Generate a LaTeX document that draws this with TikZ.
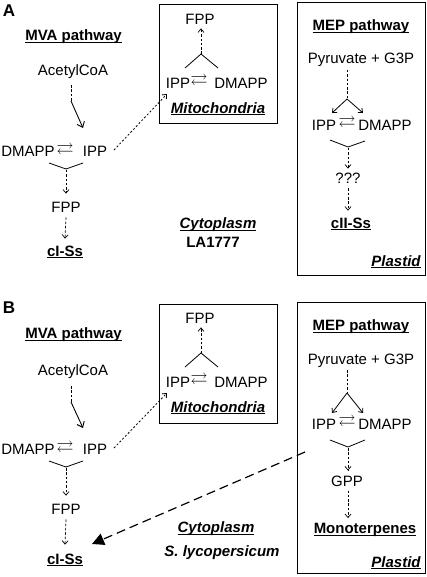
\documentclass[tikz,border=0pt]{standalone}
\usepackage{amssymb}
\usepackage{fontspec}
\setmainfont{Liberation Sans}
\usetikzlibrary{arrows.meta}
\newcommand\myul[1]{\setbox0\hbox{#1}\rlap{\rule[-1.8pt]{\wd0}{0.9pt}}\box0}
\tikzset{
  tx/.style={inner sep=0pt, font=\fontsize{15}{17}\selectfont},
  bt/.style={tx, font=\fontsize{15}{17}\selectfont\bfseries},
  bi/.style={tx, font=\fontsize{15}{17}\selectfont\bfseries\itshape},
  lab/.style={inner sep=0pt, font=\fontsize{17}{19}\selectfont\bfseries},
  sym/.style={inner sep=0pt, font=\fontsize{17}{19}\selectfont},
  boxx/.style={draw, line width=1pt, inner sep=0pt},
  dsh/.style={line width=0.7pt, dash pattern=on 2.5pt off 1.8pt, -{Straight Barb[length=3.5pt,width=6pt]}},
  dln/.style={line width=0.7pt, dash pattern=on 2.5pt off 1.8pt},
  sarr/.style={line width=0.9pt, -{Straight Barb[length=5pt,width=8pt]}},
  farr/.style={line width=0.8pt, -{Straight Barb[length=3.5pt,width=6pt]}},
  dott/.style={line width=0.8pt, dash pattern=on 2pt off 2pt, -{Straight Barb[length=3.5pt,width=6pt]}},
  vln/.style={line width=0.8pt},
  bigd/.style={line width=1.2pt, dash pattern=on 9pt off 5pt, -{Triangle[length=12pt,width=12pt]}}
}
\begin{document}
\begin{tikzpicture}[x=1pt,y=-1pt]
\useasboundingbox (0,0) rectangle (427,577);
\fill[white] (0,0) rectangle (427,577);
% ================= Panel A =================
\node[lab] (labA) at (9,11) {A};
\node[bt] (mvaA) at (73.5,37) {\myul{MVA pathway}};
\node[tx] (acA) at (73,72) {AcetylCoA};
\coordinate (acmA) at (71,101);
\coordinate (arA) at (83,128);
\draw[dln] (acA.south -| acmA) ++(0,6) -- (acmA);
\draw[sarr] (acmA) -- (arA);
\node[tx] (dmA) at (28,151) {DMAPP};
\node[sym] (syA) at (65,150) {$\rightleftarrows$};
\node[tx] (ipA) at (95,151) {IPP};
\coordinate (vlA) at (49,163);
\coordinate (vcA) at (66,169);
\coordinate (vrA) at (83,163);
\draw[vln] (vlA) -- (vcA) -- (vrA);
\node[tx] (fpA) at (66,207) {FPP};
\node[bt] (ciA) at (65,252) {\myul{cI-Ss}};
\draw[dsh] (vcA) ++(0,1) -- ([yshift=8pt]fpA.north);
\draw[dsh] ([yshift=-5pt]fpA.south) -- ([yshift=7pt]ciA.north);
% Mitochondria A
\node[boxx, minimum width=118pt, minimum height=119pt] (mitoA) at (218,64.5) {};
\node[tx] (fpmA) at (200,19) {FPP};
\node[tx] (ipmA) at (178,83) {IPP};
\node[sym] (symA) at (199,81) {$\rightleftarrows$};
\node[tx] (dmmA) at (241,83) {DMAPP};
\coordinate (mlA) at (185,68);
\coordinate (mcA) at (201,54);
\coordinate (mrA) at (218,68);
\draw[vln] (mlA) -- (mcA) -- (mrA);
\draw[dsh] (mcA) -- ([yshift=-4pt]fpmA.south -| mcA);
\node[bi] (mtA) at (218,109) {\myul{Mitochondria}};
\coordinate (d1A) at (114,150);
\coordinate (d2A) at (167,94);
\draw[dott] (d1A) -- (d2A);
\node[bi] (cyA) at (218,225) {\myul{Cytoplasm}};
\node[bt] (laA) at (213,242) {LA1777};
% Plastid A
\node[boxx, minimum width=128pt, minimum height=272pt] (plA) at (361,139) {};
\node[bt] (mepA) at (361,27) {\myul{MEP pathway}};
\node[tx] (pyA) at (361,60) {Pyruvate + G3P};
\coordinate (ptA) at (347,70);
\coordinate (pcA) at (347,99);
\coordinate (plfA) at (332,113);
\coordinate (prfA) at (363,113);
\draw[dln] (ptA) -- (pcA);
\draw[farr] (pcA) -- (plfA);
\draw[farr] (pcA) -- (prfA);
\node[tx] (ippA) at (324,125) {IPP};
\node[sym] (sypA) at (347,123) {$\rightleftarrows$};
\node[tx] (dmpA) at (385,125) {DMAPP};
\coordinate (qlA) at (330,140);
\coordinate (qcA) at (348,147);
\coordinate (qrA) at (365,141);
\draw[vln] (qlA) -- (qcA) -- (qrA);
\node[tx] (qqA) at (348,178) {???};
\node[bt] (ciiA) at (351,224) {\myul{cII-Ss}};
\draw[dsh] (qcA) ++(0,1) -- ([yshift=4pt]qqA.north -| qcA);
\draw[dsh] ([yshift=-5pt]qqA.south -| qcA) -- ([yshift=7pt]ciiA.north -| qcA);
\node[bi] (ptdA) at (396,262) {\myul{Plastid}};
% ================= Panel B =================
\node[lab] (labB) at (9,308) {B};
\node[bt] (mvaB) at (73.5,335) {\myul{MVA pathway}};
\node[tx] (acB) at (73,372) {AcetylCoA};
\coordinate (acmB) at (71,402);
\coordinate (arB) at (83,428);
\draw[dln] (acB.south -| acmB) ++(0,7) -- (acmB);
\draw[sarr] (acmB) -- (arB);
\node[tx] (dmB) at (28,449) {DMAPP};
\node[sym] (syB) at (65,448) {$\rightleftarrows$};
\node[tx] (ipB) at (95,449) {IPP};
\coordinate (vlB) at (49,461);
\coordinate (vcB) at (66,467);
\coordinate (vrB) at (83,461);
\draw[vln] (vlB) -- (vcB) -- (vrB);
\node[tx] (fpB) at (66,509) {FPP};
\node[bt] (ciB) at (65,560) {\myul{cI-Ss}};
\draw[dsh] (vcB) ++(0,1) -- ([yshift=8pt]fpB.north);
\draw[dsh] ([yshift=-5pt]fpB.south) -- ([yshift=9pt]ciB.north);
% Mitochondria B
\node[boxx, minimum width=118pt, minimum height=119pt] (mitoB) at (218,363.5) {};
\node[tx] (fpmB) at (200,318) {FPP};
\node[tx] (ipmB) at (178,382) {IPP};
\node[sym] (symB) at (199,380) {$\rightleftarrows$};
\node[tx] (dmmB) at (241,382) {DMAPP};
\coordinate (mlB) at (185,367);
\coordinate (mcB) at (201,353);
\coordinate (mrB) at (218,367);
\draw[vln] (mlB) -- (mcB) -- (mrB);
\draw[dsh] (mcB) -- ([yshift=-4pt]fpmB.south -| mcB);
\node[bi] (mtB) at (218,408) {\myul{Mitochondria}};
\coordinate (d1B) at (114,448);
\coordinate (d2B) at (167,393);
\draw[dott] (d1B) -- (d2B);
\node[bi] (cyB) at (216,529) {\myul{Cytoplasm}};
\node[bi] (slB) at (222,553) {S. lycopersicum};
% Plastid B
\node[boxx, minimum width=128pt, minimum height=271pt] (plB) at (361,437.5) {};
\node[bt] (mepB) at (361,327) {\myul{MEP pathway}};
\node[tx] (pyB) at (361,361) {Pyruvate + G3P};
\coordinate (ptB) at (347,370);
\coordinate (pcB) at (347,393);
\coordinate (plfB) at (332,413);
\coordinate (prfB) at (363,413);
\draw[dln] (ptB) -- (pcB);
\draw[farr] (pcB) -- (plfB);
\draw[farr] (pcB) -- (prfB);
\node[tx] (ippB) at (324,424) {IPP};
\node[sym] (sypB) at (347,422) {$\rightleftarrows$};
\node[tx] (dmpB) at (385,424) {DMAPP};
\coordinate (qlB) at (330,440);
\coordinate (qcB) at (348,447);
\coordinate (qrB) at (365,440);
\draw[vln] (qlB) -- (qcB) -- (qrB);
\node[tx] (gpB) at (347,481) {GPP};
\node[bt] (moB) at (365,530) {\myul{Monoterpenes}};
\draw[dsh] (qcB) ++(0,1) -- ([yshift=5pt]gpB.north -| qcB);
\draw[dsh] ([yshift=-4pt]gpB.south -| qcB) -- ([yshift=5pt]moB.north -| qcB);
\node[bi] (ptdB) at (396,563) {\myul{Plastid}};
\coordinate (bgB) at (305,452);
\coordinate (beB) at (92,544);
\draw[bigd] (bgB) -- (beB);
\end{tikzpicture}
\end{document}
